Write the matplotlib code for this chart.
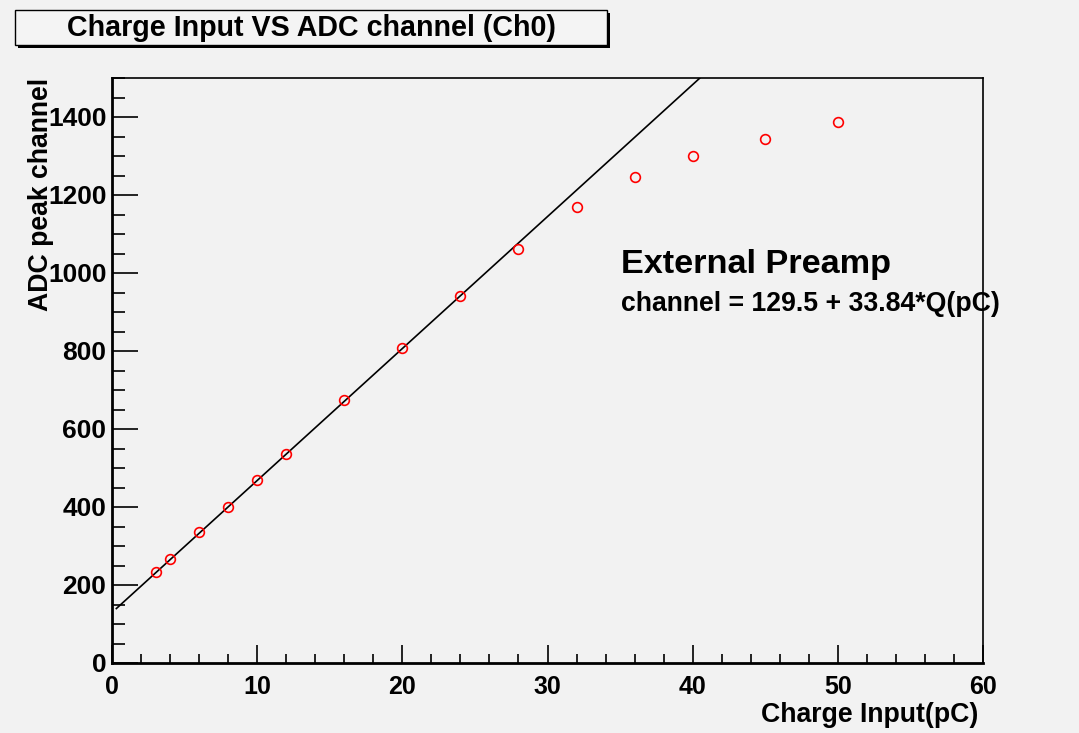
import numpy as np
import matplotlib
matplotlib.use("Agg")
import matplotlib.pyplot as plt
from matplotlib.patches import Rectangle
from matplotlib.ticker import MultipleLocator

# datos
carga = [3, 4, 6, 8, 10, 12, 16, 20, 24, 28, 32, 36, 40, 45, 50]
canal = [233, 267, 336, 400, 469, 536, 674, 808, 941, 1062, 1169, 1246, 1300, 1344, 1387]

# ajuste lineal
p0 = 129.5
p1 = 33.84
ajuste_rango = [0.3, 50]

titulo = "Charge Input VS ADC channel (Ch0)"
etiqueta_x = "Charge Input(pC)"
etiqueta_y = "ADC peak channel"

plt.rcParams['font.family'] = ['Liberation Sans', 'DejaVu Sans']
plt.rcParams['font.weight'] = 'bold'

fondo = '#f2f2f2'
W, H = 1079, 733
fig = plt.figure(figsize=(W / 100, H / 100), dpi=100, facecolor=fondo)

ax = fig.add_axes([112 / W, 1 - 663 / H, (983 - 112) / W, (663 - 78) / H])
ax.set_facecolor(fondo)

xs = np.linspace(ajuste_rango[0], ajuste_rango[1], 200)
ax.plot(xs, p0 + p1 * xs, color='black', lw=1.2)
ax.plot(carga, canal, 'o', mfc='none', mec='red', ms=7, mew=1.2)

ax.set_xlim(0, 60)
ax.set_ylim(0, 1500)
ax.xaxis.set_major_locator(MultipleLocator(10))
ax.xaxis.set_minor_locator(MultipleLocator(2))
ax.yaxis.set_major_locator(MultipleLocator(200))
ax.yaxis.set_minor_locator(MultipleLocator(50))

ax.tick_params(axis='x', which='major', direction='in', length=13, width=1.2, pad=9,
               labelsize=18, top=False)
ax.tick_params(axis='x', which='minor', direction='in', length=6.5, width=1.2, top=False)
ax.tick_params(axis='y', which='major', direction='in', length=19, width=1.2, pad=4,
               labelsize=19, right=False)
ax.tick_params(axis='y', which='minor', direction='in', length=9.5, width=1.2, right=False)
for lab in ax.get_xticklabels() + ax.get_yticklabels():
    lab.set_fontweight('bold')

ax.spines['bottom'].set_linewidth(2)
ax.spines['left'].set_linewidth(2)
ax.spines['top'].set_linewidth(1.2)
ax.spines['right'].set_linewidth(1.2)

fig.text(978 / W, 1 - 728 / H, etiqueta_x, ha='right', va='bottom', fontsize=19.2, fontweight='bold')
fig.text(41 / W, 1 - 78 / H, etiqueta_y, ha='center', va='top', rotation=90, fontsize=19.2, fontweight='bold')

fig.text(621 / W, 1 - 273 / H, "External Preamp", fontsize=24.7, fontweight='bold',
         ha='left', va='baseline')
fig.text(621 / W, 1 - 311 / H, "channel = 129.5 + 33.84*Q(pC)", fontsize=19.2, fontweight='bold',
         ha='left', va='baseline')

# caja del titulo con sombra
fig.patches.append(Rectangle((18 / W, 1 - 48 / H), 592 / W, 35 / H, transform=fig.transFigure,
                             facecolor='black', edgecolor='none'))
fig.patches.append(Rectangle((15 / W, 1 - 45 / H), 592 / W, 35 / H, transform=fig.transFigure,
                             facecolor='#f4f4f4', edgecolor='black', lw=1))
fig.text(311 / W, 1 - 28 / H, titulo, ha='center', va='center', fontsize=20.6, fontweight='bold')

fig.savefig("out.png", dpi=100, facecolor=fondo)
